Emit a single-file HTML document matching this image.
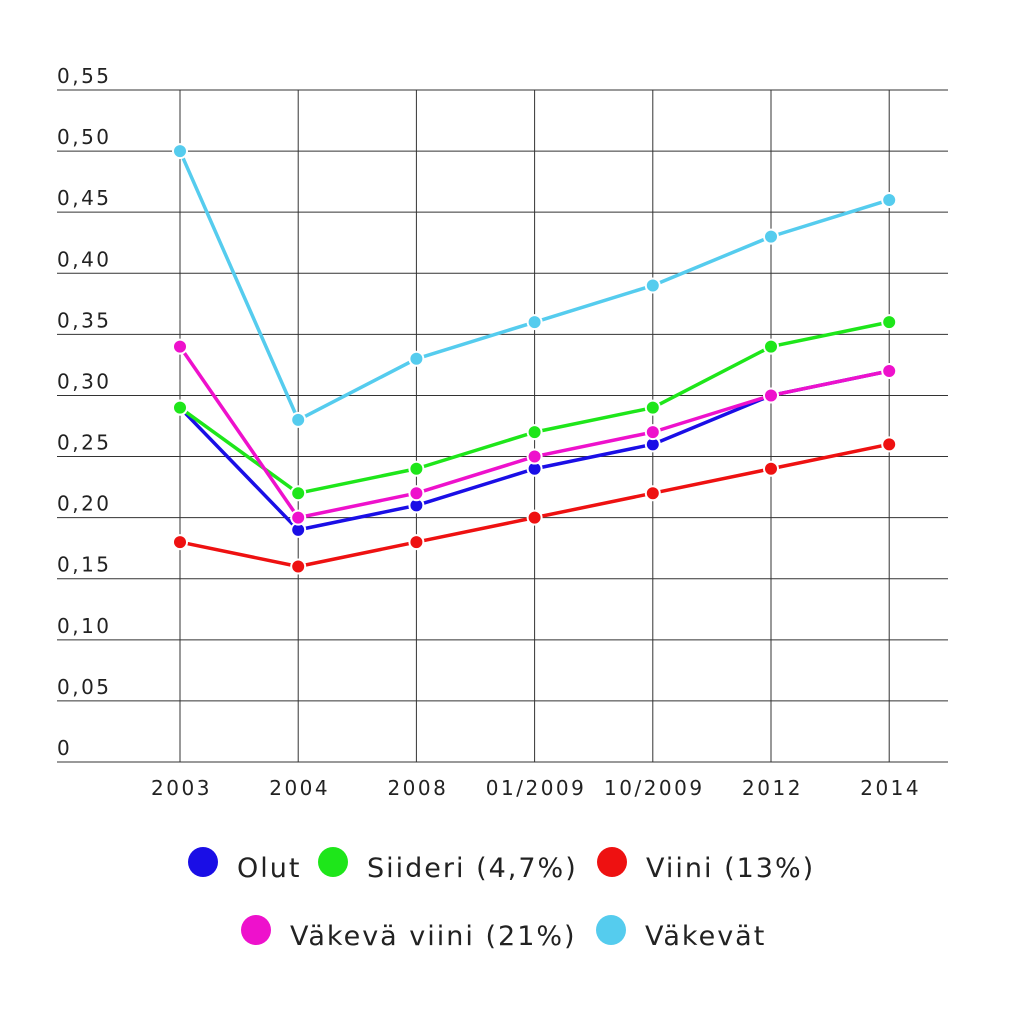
<!DOCTYPE html>
<html><head><meta charset="utf-8"><style>
body{margin:0;background:#fff;}
svg{display:block;font-family:"DejaVu Sans","Liberation Sans",sans-serif;}
</style></head><body>
<svg id="chart" width="1024" height="1009">
<g id="grid"></g>
<g id="series"></g>
<g id="legend"></g>
</svg>
<script>
const categories=["2003","2004","2008","01/2009","10/2009","2012","2014"];
const yTicks=[0,0.05,0.10,0.15,0.20,0.25,0.30,0.35,0.40,0.45,0.50,0.55];
const yTickLabels=["0","0,05","0,10","0,15","0,20","0,25","0,30","0,35","0,40","0,45","0,50","0,55"];
const seriesNames=["Olut","Siideri (4,7%)","Viini (13%)","Väkevä viini (21%)","Väkevät"];
const seriesColors=["#1a0ee6","#1ee61a","#ee1111","#ee11cc","#55ccee"];
const olut=[0.29,0.19,0.21,0.24,0.26,0.30,0.32];
const siideri=[0.29,0.22,0.24,0.27,0.29,0.34,0.36];
const viini=[0.18,0.16,0.18,0.20,0.22,0.24,0.26];
const vakevaViini=[0.34,0.20,0.22,0.25,0.27,0.30,0.32];
const vakevat=[0.50,0.28,0.33,0.36,0.39,0.43,0.46];
const seriesValues=[olut,siideri,viini,vakevaViini,vakevat];

const NS="http://www.w3.org/2000/svg";
const x0=180,dx=118.2,yBase=762,yTop=90,yMax=0.55;
const xs=i=>x0+i*dx;
const ys=v=>yBase-(v/yMax)*(yBase-yTop);
function mk(tag,attrs,parent,text){const e=document.createElementNS(NS,tag);for(const k in attrs)e.setAttribute(k,attrs[k]);if(text!==undefined)e.textContent=text;parent.appendChild(e);return e;}
const grid=document.getElementById('grid');
yTicks.forEach((t,i)=>{
  const l=mk('line',{x1:57,x2:948,y1:ys(t),y2:ys(t),stroke:'#333','stroke-width':1},grid);
  
  
  const tx=mk('text',{x:57,y:ys(t)-7,'font-size':20,fill:'#222','letter-spacing':2.5},grid,yTickLabels[i]);
  
  
});
categories.forEach((c,i)=>{
  const l=mk('line',{x1:xs(i),x2:xs(i),y1:yTop,y2:yBase,stroke:'#333','stroke-width':1},grid);
  
  
  const tx=mk('text',{x:xs(i)+1.5,y:795,'font-size':20,fill:'#222','text-anchor':'middle','letter-spacing':2.5},grid,c);
  
  
});
const sg=document.getElementById('series');
seriesValues.forEach((vals,s)=>{
  const pl=mk('polyline',{points:vals.map((v,i)=>xs(i)+','+ys(v)).join(' '),fill:'none',stroke:seriesColors[s],'stroke-width':3.5,'stroke-linejoin':'round'},sg);
  
  
  vals.forEach((v,i)=>{
    const c=mk('circle',{cx:xs(i),cy:ys(v),r:7,fill:seriesColors[s],stroke:'#fff','stroke-width':2},sg);
    
    
  });
});
const lg=document.getElementById('legend');
const legPos=[[203,862],[333,862],[612,862],[256,930],[611,930]];
seriesNames.forEach((n,s)=>{
  const g=mk('g',{},lg);
  
  
  mk('circle',{cx:legPos[s][0],cy:legPos[s][1],r:15,fill:seriesColors[s]},g);
  mk('text',{x:legPos[s][0]+34,y:legPos[s][1]+15,'font-size':27,fill:'#222','letter-spacing':2},g,n);
});
</script>
</body></html>
